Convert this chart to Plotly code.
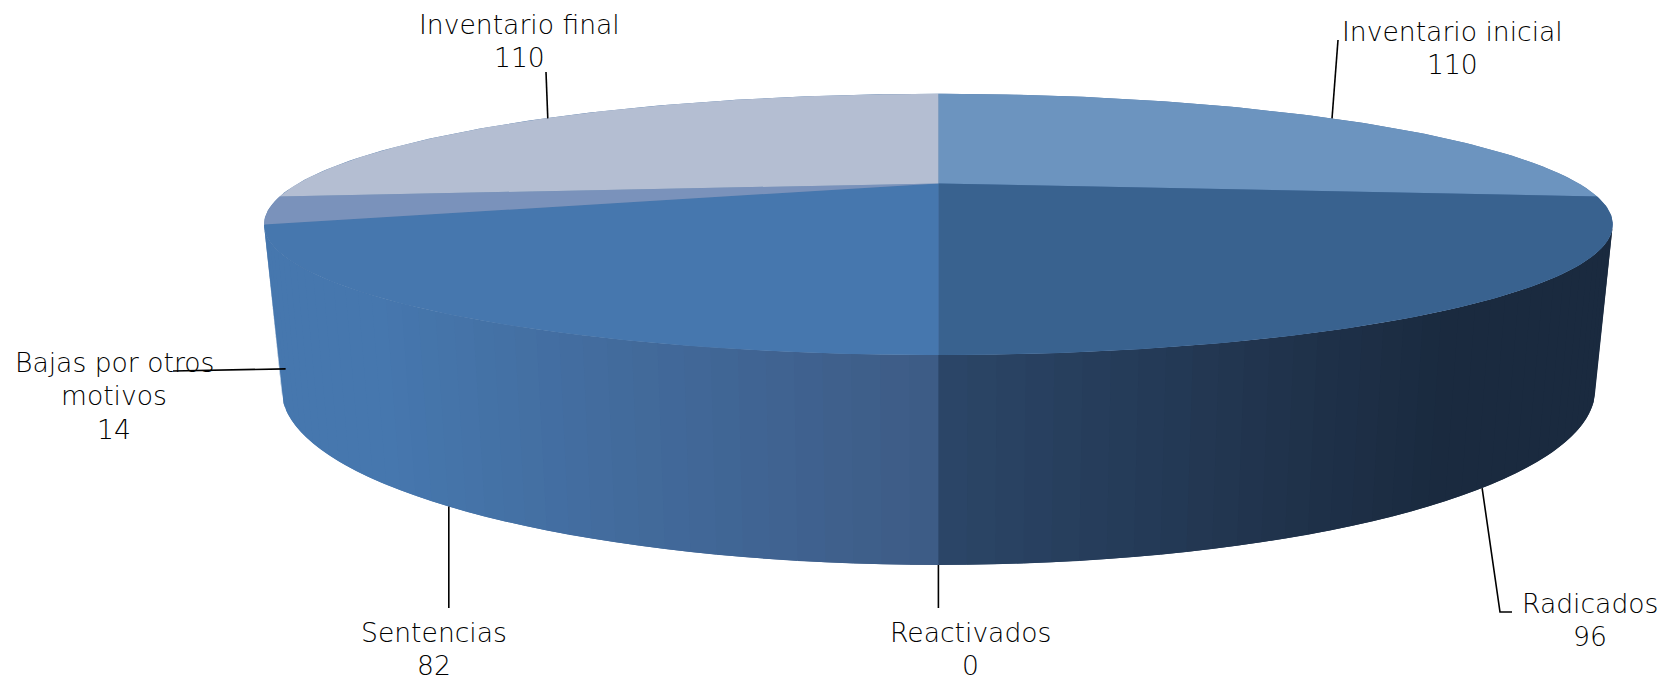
import numpy as np
import plotly.graph_objects as go

# ---- data ----
categories = ["Inventario inicial", "Radicados", "Reactivados", "Sentencias",
              "Bajas por otros motivos", "Inventario final"]
values = [110, 96, 0, 82, 14, 110]
label_lines = [["Inventario inicial", "110"], ["Radicados", "96"], ["Reactivados", "0"],
               ["Sentencias", "82"], ["Bajas por otros", "motivos", "14"], ["Inventario final", "110"]]

# ---- styling / projection ----
W, H = 1671, 681
S = 1671 / 1567
FONT = "DejaVu Sans"
FSIZE = 26.6
top_colors = ["#6c94bf", "#39628f", "#39628f", "#4677ae", "#7a92bb", "#b4bed2"]
CX = 880 * S
K = 0.314
TOP = dict(a=600.4 * S, b=110.4 * S, cy=172 * S)
BOT = dict(a=584.7 * S, b=147.9 * S, cy=314.2 * S)


def project(theta, p):
    u, v = np.sin(theta), np.cos(theta)
    w = 1 + K * v
    return CX + p["a"] * u / w, p["cy"] - p["b"] * v / w


def mix(c1, c2, t):
    t = min(max(t, 0), 1)
    a = [int(c1[i:i + 2], 16) for i in (1, 3, 5)]
    b = [int(c2[i:i + 2], 16) for i in (1, 3, 5)]
    return "rgb(%d,%d,%d)" % tuple(round(x + (y - x) * t) for x, y in zip(a, b))


def wall_color(x):
    if x >= CX:
        return mix("#2c4668", "#1a2a3f", (x - CX) / (470 * S))
    return mix("#3d5b85", "#4677ae", (CX - x) / (520 * S))


total = sum(values)
edges = np.concatenate([[0], np.cumsum(values)]) / total * 2 * np.pi
mids = (edges[:-1] + edges[1:]) / 2

fig = go.Figure()


def poly(xs, ys, color):
    fig.add_trace(go.Scatter(x=xs, y=ys, mode="lines", fill="toself", fillcolor=color,
                             line=dict(width=0), hoverinfo="skip", showlegend=False))


# side wall: strips between the upper and lower rim, each overlapping the next to avoid seams
sil = np.arccos(K)
lo, hi = np.pi - sil, np.pi + sil
strip_edges = np.sort(np.unique(np.concatenate([np.linspace(lo, hi, 81), [np.pi]])))
for n, (t0, t1) in enumerate(zip(strip_edges[:-1], strip_edges[1:])):
    t_end = strip_edges[min(n + 2, len(strip_edges) - 1)]
    ts = np.linspace(t0, t_end, 6)
    xt, yt = project(ts, TOP)
    xb, yb = project(ts[::-1], BOT)
    xc = (project(t0, TOP)[0] + project(t1, TOP)[0] + project(t0, BOT)[0] + project(t1, BOT)[0]) / 4
    poly(np.r_[xt, xb, xt[0]], np.r_[yt, yb, yt[0]], wall_color(xc))

# underlay so that no white hairlines show between wedges
xs, ys = project(np.linspace(edges[0], edges[-1], 360), TOP)
poly(xs, ys, "#4f78a8")

# top face: one wedge per non-empty slice
for i, val in enumerate(values):
    if val == 0:
        continue
    th = np.linspace(edges[i], edges[i + 1], 120)
    xs, ys = project(th, TOP)
    poly(np.r_[CX, xs, CX], np.r_[TOP["cy"], ys, TOP["cy"]], top_colors[i])

# leader lines anchored on each slice's middle angle
BLACK = "#000000"


def leader(xs, ys):
    fig.add_trace(go.Scatter(x=xs, y=ys, mode="lines", line=dict(color=BLACK, width=1.6),
                             hoverinfo="skip", showlegend=False))


ax, ay = project(mids[0], TOP)
leader([ax, 1338], [ay, 40])
ax, ay = project(mids[1], BOT)
leader([ax, 1500, 1512], [ay, 612, 612])
ax, ay = project(mids[2], BOT)
leader([ax, ax], [ay, 608])
ax, ay = project(mids[3], BOT)
leader([ax, ax], [ay, 608])
ax, ay = project(mids[4], BOT)
leader([ax, 173], [ay - 2, 371])
ax, ay = project(mids[5], TOP)
leader([ax + 3, 546], [ay, 72])

# text labels: centre x and y of the first line of every label
label_x = [1452, 1590, 970, 434, 114, 519]
label_y = [31, 603, 632, 632, 362, 24]
LINE = 33.6
annotations = []
for lines, lx, ly in zip(label_lines, label_x, label_y):
    for j, txt in enumerate(lines):
        annotations.append(dict(x=lx, y=ly + j * LINE, text=txt, showarrow=False,
                                xanchor="center", yanchor="middle", borderpad=0,
                                font=dict(family=FONT, size=FSIZE, color="#000000", weight=200)))

fig.update_layout(
    width=W, height=H, margin=dict(l=0, r=0, t=0, b=0),
    paper_bgcolor="white", plot_bgcolor="white", showlegend=False,
    xaxis=dict(range=[0, W], visible=False, fixedrange=True),
    yaxis=dict(range=[H, 0], visible=False, fixedrange=True),
    annotations=annotations,
)
fig.write_html("out.html", config={"displayModeBar": False},
               post_script="document.body.style.margin='0';document.documentElement.style.overflow='hidden';")
